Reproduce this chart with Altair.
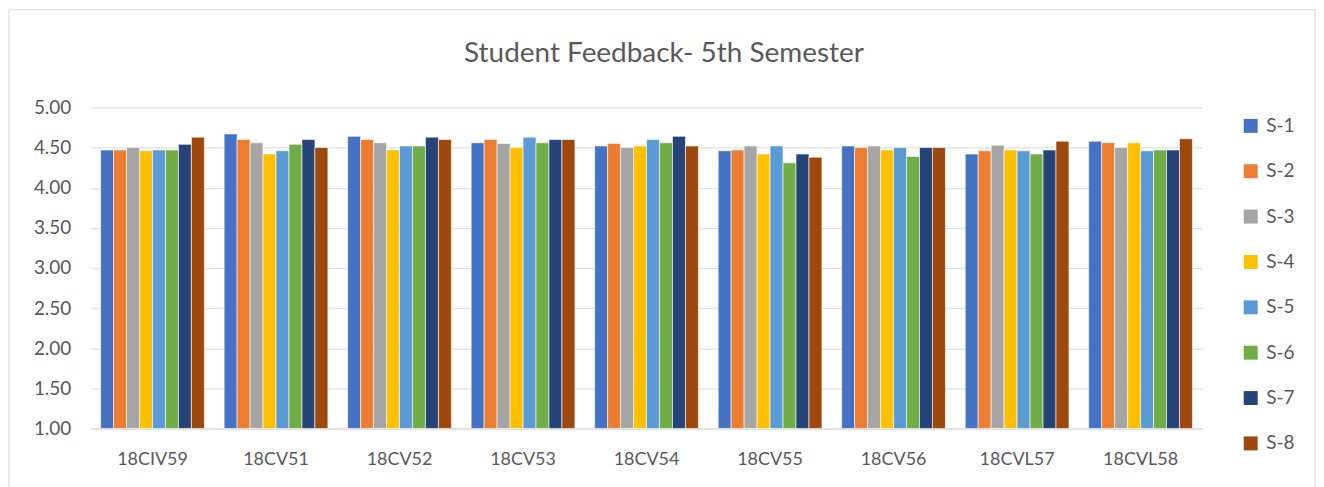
import altair as alt
import pandas as pd

courses = ["18CIV59", "18CV51", "18CV52", "18CV53", "18CV54", "18CV55", "18CV56", "18CVL57", "18CVL58"]
series = ["S-1", "S-2", "S-3", "S-4", "S-5", "S-6", "S-7", "S-8"]
s1 = [4.47, 4.67, 4.64, 4.56, 4.52, 4.46, 4.52, 4.42, 4.58]
s2 = [4.47, 4.60, 4.60, 4.60, 4.55, 4.47, 4.50, 4.46, 4.56]
s3 = [4.50, 4.56, 4.56, 4.55, 4.50, 4.52, 4.52, 4.53, 4.50]
s4 = [4.46, 4.42, 4.47, 4.50, 4.52, 4.42, 4.47, 4.47, 4.56]
s5 = [4.47, 4.46, 4.52, 4.63, 4.60, 4.52, 4.50, 4.46, 4.46]
s6 = [4.47, 4.54, 4.52, 4.56, 4.56, 4.31, 4.39, 4.42, 4.47]
s7 = [4.54, 4.60, 4.63, 4.60, 4.64, 4.42, 4.50, 4.47, 4.47]
s8 = [4.63, 4.50, 4.60, 4.60, 4.52, 4.38, 4.50, 4.58, 4.61]
colors = ["#4472C4", "#ED7D31", "#A5A5A5", "#FFC000", "#5B9BD5", "#70AD47", "#264478", "#9E480E"]
title_text = "Student Feedback- 5th Semester"

all_vals = [s1, s2, s3, s4, s5, s6, s7, s8]
rows = []
for s, vals in zip(series, all_vals):
    for c, v in zip(courses, vals):
        rows.append({"course": c, "series": s, "value": v})
df = pd.DataFrame(rows)

FONT = "Lato"
GRAY = "#595959"

bars = alt.Chart(df).mark_bar(stroke="white", strokeWidth=0.6).encode(
    x=alt.X("course:N", sort=courses, title=None,
            scale=alt.Scale(paddingInner=0.16, paddingOuter=0.08),
            axis=alt.Axis(labelAngle=0, labelFontSize=18, labelColor=GRAY, labelFont=FONT,
                          ticks=False, domainColor="#D9D9D9", labelPadding=22, grid=False)),
    xOffset=alt.XOffset("series:N", sort=series, scale=alt.Scale(paddingInner=0, paddingOuter=0)),
    y=alt.Y("value:Q", title=None,
            scale=alt.Scale(domain=[1, 5], nice=False, zero=False),
            axis=alt.Axis(values=[1, 1.5, 2, 2.5, 3, 3.5, 4, 4.5, 5], format=".2f",
                          labelFontSize=19, labelColor=GRAY, labelFont=FONT, ticks=False,
                          domain=False, labelPadding=20, gridColor="#D9D9D9")),
    y2=alt.Y2(datum=1),
    color=alt.Color("series:N", sort=series, scale=alt.Scale(domain=series, range=colors),
                    legend=alt.Legend(title=None, orient="none", legendX=1154, legendY=9,
                                      symbolType="square", symbolSize=196, symbolStrokeWidth=0,
                                      labelFontSize=19, labelColor=GRAY, labelFont=FONT,
                                      rowPadding=25.5, labelOffset=6)),
)

frame = pd.DataFrame({"t": [title_text]})

border = alt.Chart(frame).mark_rect(filled=False, stroke="#D9D9D9", strokeWidth=1).encode(
    x=alt.value(-82), x2=alt.value(1228), y=alt.value(-98), y2=alt.value(385)
)

title = alt.Chart(frame).mark_text(fontSize=28, font=FONT, color=GRAY, align="center",
                                    baseline="middle").encode(
    text="t:N", x=alt.value(575), y=alt.value(-54)
)

chart = alt.layer(border, title, bars).properties(
    width=1115, height=322,
    padding=0,
).configure_view(stroke=None)

chart.save("out.html", embed_options={"renderer": "svg", "actions": False})
